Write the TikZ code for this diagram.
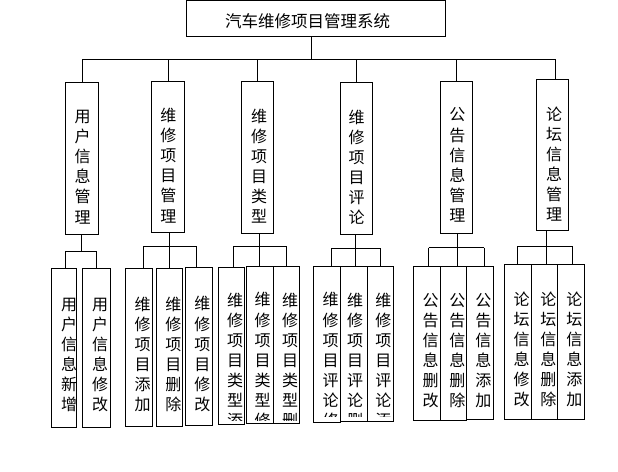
\documentclass[tikz,border=0pt]{standalone}
\usepackage{fontspec}
\newfontfamily\cjk{Noto Sans CJK SC}
\tikzset{
  bx/.style={draw, line width=0.9pt, inner sep=0pt, rectangle},
  vt/.style={font=\cjk\fontsize{16}{20.1}\selectfont, align=center, inner sep=0pt},
  ttl/.style={font=\cjk\fontsize{16.5}{16.5}\selectfont, inner sep=0pt},
  ln/.style={line width=0.9pt},
}
\newcommand\mkbox[5]{\node[bx, minimum width={(#4-#2)*1pt}, minimum height={(#5-#3)*1pt}] (#1) at ({(#2+#4)/2},{(#3+#5)/2}) {};}
\newcommand\vtxt[4]{\node[vt] (#1) at (#2,#3) {#4};}
\begin{document}
\begin{tikzpicture}[x=1pt,y=-1pt]
\useasboundingbox (0,0) rectangle (618,471);
% top
\mkbox{top}{186.3}{0.8}{445.3}{36}
\node[ttl] (title) at (307.5,21.3) {汽车维修项目管理系统};
% mid boxes
\mkbox{m1}{65.7}{82.3}{98.7}{234.3}
\mkbox{m2}{151.3}{81.3}{184.3}{232.3}
\mkbox{m3}{241.7}{81.3}{273.3}{233.3}
\mkbox{m4}{340.7}{82.3}{372.7}{234.3}
\mkbox{m5}{440.3}{81.3}{472.3}{233.3}
\mkbox{m6}{536.3}{79.3}{568.3}{230.3}
\vtxt{tm1}{82.7}{167}{用\\户\\信\\息\\管\\理}
\vtxt{tm2}{168.3}{165.5}{维\\修\\项\\目\\管\\理}
\vtxt{tm3}{259}{166.2}{维\\修\\项\\目\\类\\型}
\vtxt{tm4}{356.7}{167.5}{维\\修\\项\\目\\评\\论}
\vtxt{tm5}{457.3}{165}{公\\告\\信\\息\\管\\理}
\vtxt{tm6}{554}{164.2}{论\\坛\\信\\息\\管\\理}
% top connectors
\coordinate (t0) at (311.3,59.3);
\coordinate (tb1) at (82.7,59.3);
\coordinate (tb2) at (168.3,59.3);
\coordinate (tb3) at (257.3,59.3);
\coordinate (tb4) at (356.3,59.3);
\coordinate (tb5) at (456.3,59.3);
\coordinate (tb6) at (555.3,59.3);
\draw[ln] (t0 |- top.south) -- (t0);
\draw[ln] (tb1) -- (tb6);
\foreach \i in {1,...,6}{\draw[ln] (tb\i) -- (tb\i |- m\i.north);}
% leaf boxes
\mkbox{l1a}{51.7}{268.3}{76.7}{427.3}
\mkbox{l1b}{82.3}{268.3}{110.7}{427.3}
\mkbox{l2a}{125.7}{268.3}{152.7}{426.7}
\mkbox{l2b}{156.3}{268.3}{182.7}{426.7}
\mkbox{l2c}{185.3}{267.7}{212.7}{425.3}
\mkbox{l3a}{218.3}{267.7}{244.3}{424.3}
\mkbox{l3b}{246}{266}{273.3}{423.3}
\mkbox{l3c}{273.3}{266}{299.3}{423.3}
\mkbox{l4a}{313.3}{266}{340.7}{422.3}
\mkbox{l4b}{340.7}{266}{367.3}{421}
\mkbox{l4c}{367.3}{266}{393.3}{421}
\mkbox{l5a}{413.3}{266}{440.7}{420.7}
\mkbox{l5b}{440.7}{266}{466.7}{420.7}
\mkbox{l5c}{466.7}{266}{493.3}{419.3}
\mkbox{l6a}{504.3}{264.3}{531.7}{419.3}
\mkbox{l6b}{531.7}{264.3}{557.3}{419.3}
\mkbox{l6c}{557.3}{264.3}{584.3}{419.3}
% leaf texts
\vtxt{t1a}{69}{355}{用\\户\\信\\息\\新\\增}
\vtxt{t1b}{100}{355}{用\\户\\信\\息\\修\\改}
\vtxt{t2a}{142.7}{354.2}{维\\修\\项\\目\\添\\加}
\vtxt{t2b}{173.3}{354.2}{维\\修\\项\\目\\删\\除}
\vtxt{t2c}{202.3}{354.2}{维\\修\\项\\目\\修\\改}
\begin{scope}
\clip (214,262) rectangle (303,420.8);
\vtxt{t3a}{235}{370.3}{维\\修\\项\\目\\类\\型\\添\\加}
\vtxt{t3b}{262.7}{370.3}{维\\修\\项\\目\\类\\型\\修\\改}
\vtxt{t3c}{290}{370.3}{维\\修\\项\\目\\类\\型\\删\\除}
\end{scope}
\begin{scope}
\clip (309,262) rectangle (397,416.5);
\vtxt{t4a}{330.7}{370.3}{维\\修\\项\\目\\评\\论\\修\\改}
\vtxt{t4b}{355}{370.3}{维\\修\\项\\目\\评\\论\\删\\除}
\vtxt{t4c}{383.3}{370.3}{维\\修\\项\\目\\评\\论\\添\\加}
\end{scope}
\vtxt{t5a}{430.7}{350.8}{公\\告\\信\\息\\删\\改}
\vtxt{t5b}{457.3}{350.8}{公\\告\\信\\息\\删\\除}
\vtxt{t5c}{483.3}{350.8}{公\\告\\信\\息\\添\\加}
\vtxt{t6a}{521.7}{349.2}{论\\坛\\信\\息\\修\\改}
\vtxt{t6b}{548.3}{349.2}{论\\坛\\信\\息\\删\\除}
\vtxt{t6c}{574.3}{349.2}{论\\坛\\信\\息\\添\\加}
% group connectors
\coordinate (g1) at (81.7,251.3);
\coordinate (j1a) at (65.7,251.3);
\coordinate (j1b) at (96,251.3);
\draw[ln] (g1) -- (g1 |- m1.south);
\draw[ln] (j1a) -- (j1b);
\draw[ln] (j1a) -- (j1a |- l1a.north);
\draw[ln] (j1b) -- (j1b |- l1b.north);
%
\coordinate (j2a) at (143.3,246);
\coordinate (j2b) at (169.3,246);
\coordinate (j2c) at (196.3,246);
\draw[ln] (j2b) -- (j2b |- m2.south);
\draw[ln] (j2a) -- (j2c);
\draw[ln] (j2a) -- (j2a |- l2a.north);
\draw[ln] (j2b) -- (j2b |- l2b.north);
\draw[ln] (j2c) -- (j2c |- l2c.north);
%
\coordinate (j3a) at (233.3,246);
\coordinate (j3b) at (259.3,246);
\coordinate (j3c) at (286.7,246);
\draw[ln] (j3b) -- (j3b |- m3.south);
\draw[ln] (j3a) -- (j3c);
\draw[ln] (j3a) -- (j3a |- l3a.north);
\draw[ln] (j3b) -- (j3b |- l3b.north);
\draw[ln] (j3c) -- (j3c |- l3c.north);
%
\coordinate (j4a) at (331.7,248.3);
\coordinate (j4b) at (355.7,248.3);
\coordinate (j4c) at (380,248.3);
\draw[ln] (j4b) -- (j4b |- m4.south);
\draw[ln] (j4a) -- (j4c);
\draw[ln] (j4a) -- (j4a |- l4a.north);
\draw[ln] (j4b) -- (j4b |- l4b.north);
\draw[ln] (j4c) -- (j4c |- l4c.north);
%
\coordinate (j5a) at (428.7,247.7);
\coordinate (j5b) at (457.7,247.7);
\coordinate (j5c) at (484.3,247.7);
\draw[ln] (j5b) -- (j5b |- m5.south);
\draw[ln] (j5a) -- (j5c);
\draw[ln] (j5a) -- (j5a |- l5a.north);
\draw[ln] (j5b) -- (j5b |- l5b.north);
\draw[ln] (j5c) -- (j5c |- l5c.north);
%
\coordinate (j6a) at (517.3,246);
\coordinate (j6b) at (546,246);
\coordinate (j6c) at (572.3,246);
\draw[ln] (j6b) -- (j6b |- m6.south);
\draw[ln] (j6a) -- (j6c);
\draw[ln] (j6a) -- (j6a |- l6a.north);
\draw[ln] (j6b) -- (j6b |- l6b.north);
\draw[ln] (j6c) -- (j6c |- l6c.north);
\end{tikzpicture}
\end{document}
